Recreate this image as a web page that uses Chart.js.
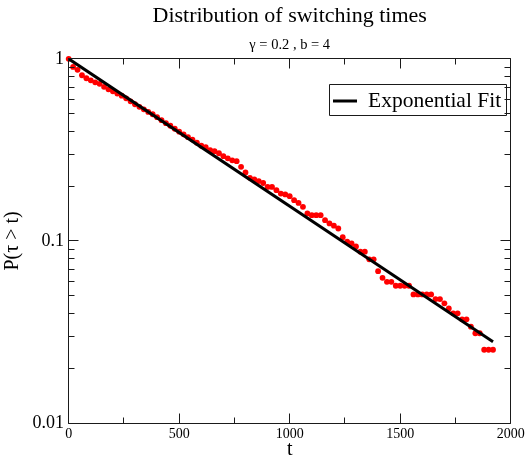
<!DOCTYPE html>
<html><head><meta charset="utf-8">
<script src="https://cdn.jsdelivr.net/npm/chart.js@4/dist/chart.umd.min.js"></script>
<style>html,body{margin:0;padding:0;background:#fff}</style>
</head><body>
<canvas id="c" width="528" height="457" style="display:block;width:528px;height:457px"></canvas>
<script>
// ---- data ----
const tValues = [0,20,40,60,80,100,120,140,160,180,200,220,240,260,280,300,320,340,360,380,
  400,420,440,460,480,500,520,540,560,580,600,620,640,660,680,700,720,740,760,780,
  800,820,840,860,880,900,920,940,960,980,1000,1020,1040,1060,1080,1100,1120,1140,1160,1180,
  1200,1220,1240,1260,1280,1300,1320,1340,1360,1380,1400,1420,1440,1460,1480,1500,1520,1540,1560,1580,
  1600,1620,1640,1660,1680,1700,1720,1740,1760,1780,1800,1820,1840,1860,1880,1900,1920];
const survival = [1.0,0.902,0.870,0.812,0.782,0.762,0.743,0.729,0.702,0.680,
  0.663,0.644,0.627,0.607,0.584,0.563,0.545,0.528,0.511,0.496,
  0.478,0.460,0.443,0.429,0.413,0.398,0.385,0.371,0.360,0.346,
  0.333,0.327,0.315,0.311,0.303,0.292,0.284,0.277,0.274,0.255,
  0.2375,0.222,0.2174,0.213,0.208,0.198,0.198,0.190,0.182,0.180,
  0.176,0.1674,0.1617,0.1538,0.1415,0.1384,0.1384,0.1384,0.130,0.1247,
  0.1213,0.117,0.1048,0.0991,0.0968,0.0932,0.0873,0.0873,0.0792,0.0792,
  0.0682,0.0627,0.0596,0.0596,0.0567,0.0567,0.0567,0.0567,0.0508,0.0508,
  0.0508,0.0508,0.0508,0.0479,0.0479,0.0454,0.0426,0.040,0.040,0.0371,
  0.0371,0.0338,0.0311,0.0311,0.02525,0.02525,0.02525];
const fitT = [0, 1920];
const fitP = [1.0, 0.0279];
const xTicks = [0, 500, 1000, 1500, 2000];
const xTickLabels = ['0', '500', '1000', '1500', '2000'];
const xMinorTicks = [250, 750, 1250, 1750];
const yTicks = [0.01, 0.1, 1];
const yTickLabels = ['0.01', '0.1', '1'];
const yMinorTicks = [0.02,0.03,0.04,0.05,0.06,0.07,0.08,0.09,0.2,0.3,0.4,0.5,0.6,0.7,0.8,0.9];

const SERIF = '"Liberation Serif", "Times New Roman", serif';

const framePlugin = {
  id: 'frame',
  afterDatasetsDraw(chart) {
    const ctx = chart.ctx, a = chart.chartArea;
    const xs = chart.scales.x, ys = chart.scales.y;
    const cx = v => Math.floor(v) + 0.5;
    const L = cx(a.left), R = cx(a.right), T = cx(a.top), B = cx(a.bottom);
    ctx.save();
    ctx.strokeStyle = '#1a1a1a';
    ctx.lineWidth = 1;
    ctx.beginPath();
    ctx.rect(L, T, R - L, B - T);
    // x ticks (bottom and top, inward)
    const xt = (v, len) => {
      const p = cx(xs.getPixelForValue(v));
      ctx.moveTo(p, B); ctx.lineTo(p, B - len);
      ctx.moveTo(p, T); ctx.lineTo(p, T + len);
    };
    xTicks.forEach(v => xt(v, 10));
    xMinorTicks.forEach(v => xt(v, 6));
    const yt = (v, len) => {
      const p = cx(ys.getPixelForValue(v));
      ctx.moveTo(L, p); ctx.lineTo(L + len, p);
      ctx.moveTo(R, p); ctx.lineTo(R - len, p);
    };
    yTicks.forEach(v => yt(v, 10));
    yMinorTicks.forEach(v => yt(v, 6));
    ctx.stroke();

    // legend box
    const ds = chart.data.datasets[0];
    ctx.beginPath();
    ctx.rect(329.5, 84.5, 177, 31);
    ctx.stroke();
    ctx.beginPath();
    ctx.lineWidth = 3;
    ctx.strokeStyle = '#000';
    ctx.moveTo(333, 101); ctx.lineTo(357, 101);
    ctx.stroke();
    ctx.fillStyle = '#000';
    ctx.font = '21.5px ' + SERIF;
    ctx.textBaseline = 'alphabetic';
    ctx.textAlign = 'left';
    ctx.fillText(ds.label, 368, 107);
    ctx.restore();
  }
};

new Chart(document.getElementById('c'), {
  data: {
    datasets: [
      {
        type: 'line',
        label: 'Exponential Fit',
        data: fitT.map((t, i) => ({x: t, y: fitP[i]})),
        borderColor: '#000',
        borderWidth: 3,
        pointRadius: 0,
        fill: false,
        tension: 0
      },
      {
        type: 'scatter',
        label: 'P(τ > t)',
        data: tValues.map((t, i) => ({x: t, y: survival[i]})),
        backgroundColor: '#ff0000',
        borderWidth: 0,
        pointRadius: 2.9,
        clip: false
      }
    ]
  },
  options: {
    responsive: false,
    animation: false,
    devicePixelRatio: 1,
    layout: {padding: {left: 0, right: 16.3, top: 0, bottom: 0}},
    plugins: {
      legend: {display: false},
      tooltip: {enabled: false},
      title: {
        display: true,
        text: 'Distribution of switching times',
        fullSize: false,
        color: '#000',
        font: {family: SERIF, size: 22, weight: 'normal', lineHeight: 1.2},
        padding: {top: 2.7, bottom: 0}
      },
      subtitle: {
        display: true,
        text: 'γ = 0.2 , b = 4',
        fullSize: false,
        color: '#000',
        font: {family: SERIF, size: 14.5, weight: 'normal', lineHeight: 1.2},
        padding: {top: 7.5, bottom: 4.8}
      }
    },
    scales: {
      x: {
        type: 'linear',
        position: 'bottom',
        min: 0, max: 2000,
        grid: {display: false, drawTicks: false},
        border: {display: false},
        afterBuildTicks: s => { s.ticks = xTicks.map(v => ({value: v})); },
        afterFit: s => { s.height = 34; },
        ticks: {
          padding: 3.3,
          color: '#000',
          maxRotation: 0,
          font: {family: SERIF, size: 14},
          callback: v => xTickLabels[xTicks.indexOf(v)]
        },
        title: {
          display: true, text: 't', color: '#000',
          font: {family: SERIF, size: 20, lineHeight: 0.7},
          padding: {top: 0, bottom: 0}
        }
      },
      y: {
        type: 'logarithmic',
        position: 'left',
        min: 0.01, max: 1,
        grid: {display: false, drawTicks: false},
        border: {display: false},
        afterBuildTicks: s => { s.ticks = yTicks.map(v => ({value: v})); },
        afterFit: s => { s.width = 68.7; },
        ticks: {
          padding: 4.7,
          color: '#000',
          font: {family: SERIF, size: 18},
          callback: v => yTickLabels[yTicks.indexOf(v)]
        },
        title: {
          display: true, text: 'P(τ > t)', color: '#000',
          font: {family: SERIF, size: 20, lineHeight: 1.2},
          padding: {top: 0.3, bottom: 0}
        }
      }
    }
  },
  plugins: [framePlugin]
});
</script>
</body></html>
